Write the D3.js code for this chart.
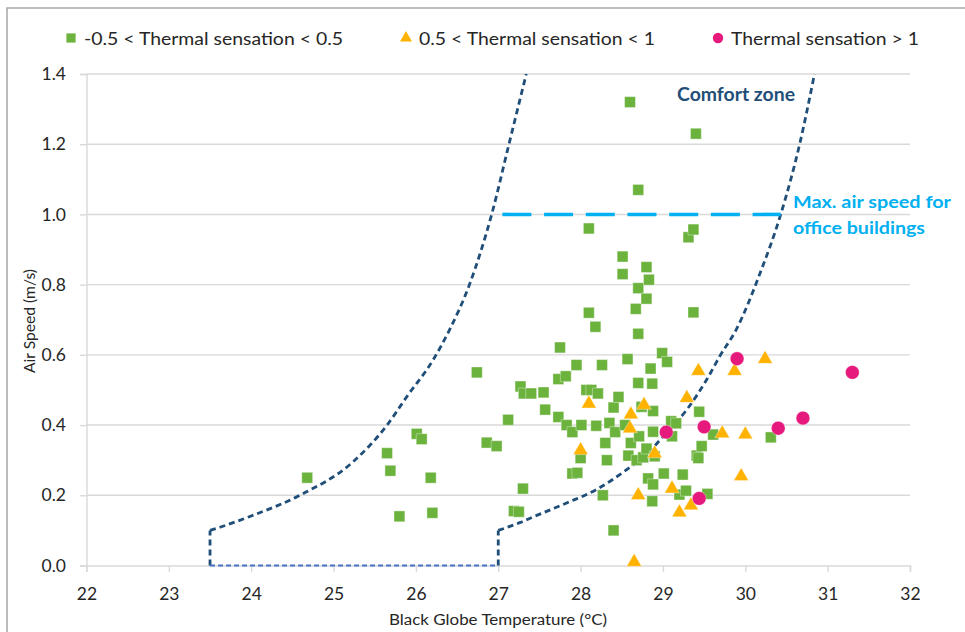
<!DOCTYPE html>
<html><head><meta charset="utf-8">
<script src="https://cdn.jsdelivr.net/npm/d3@7"></script>
<style>
body{margin:0;background:#fff;}
svg{display:block;font-family:Lato,"Open Sans","Noto Sans",sans-serif;}
</style>
</head><body>
<svg id="chart" width="965" height="632"></svg>
<script>
// ---------- data ----------
const xTickValues = [22,23,24,25,26,27,28,29,30,31,32];
const yTickValues = [0,0.2,0.4,0.6,0.8,1.0,1.2,1.4];
const seriesNames = ["-0.5 < Thermal sensation < 0.5","0.5 < Thermal sensation < 1","Thermal sensation > 1"];
const xTitle = "Black Globe Temperature (°C)";
const yTitle = "Air Speed (m/s)";

const greenT = [24.68,25.65,25.69,25.80,26.01,26.07,26.18,26.20,26.74,26.86,26.98,27.12,27.19,27.25,27.27,27.30,27.31,27.40,27.55,27.57,27.73,27.73,27.75,27.82,27.83,27.90,27.90,27.95,27.96,28.00,28.01,28.07,28.10,28.10,28.13,28.18,28.19,28.21,28.26,28.27,28.30,28.32,28.35,28.40,28.40,28.42,28.46,28.51,28.51,28.54,28.57,28.58,28.60,28.61,28.67,28.68,28.70,28.70,28.70,28.70,28.71,28.74,28.76,28.80,28.80,28.80,28.82,28.83,28.85,28.87,28.87,28.88,28.88,28.88,28.90,28.99,29.01,29.05,29.10,29.11,29.16,29.20,29.24,29.28,29.31,29.37,29.37,29.40,29.41,29.43,29.44,29.47,29.54,29.61,30.31];
const greenV = [0.25,0.32,0.27,0.14,0.375,0.36,0.25,0.15,0.55,0.35,0.34,0.415,0.155,0.153,0.51,0.219,0.49,0.49,0.493,0.444,0.423,0.531,0.621,0.539,0.40,0.38,0.262,0.571,0.264,0.306,0.40,0.50,0.96,0.72,0.50,0.68,0.398,0.49,0.571,0.20,0.349,0.30,0.406,0.45,0.10,0.38,0.48,0.88,0.83,0.40,0.588,0.313,1.32,0.349,0.731,0.30,1.07,0.79,0.66,0.52,0.368,0.452,0.308,0.85,0.76,0.333,0.248,0.814,0.561,0.518,0.183,0.44,0.381,0.231,0.311,0.605,0.262,0.58,0.411,0.368,0.405,0.202,0.259,0.213,0.935,0.957,0.721,1.23,0.313,0.306,0.438,0.34,0.204,0.373,0.365];

const orangeT = [28.65,28.00,28.10,28.60,28.61,28.70,28.77,28.90,29.11,29.20,29.29,29.34,29.43,29.72,29.87,29.95,30.00,30.24];
const orangeV = [0.01,0.328,0.461,0.39,0.43,0.20,0.457,0.319,0.219,0.151,0.477,0.171,0.554,0.376,0.554,0.254,0.373,0.588];

const pinkT = [29.04,29.44,29.50,29.90,30.40,30.70,31.30];
const pinkV = [0.38,0.191,0.395,0.589,0.391,0.42,0.55];

// comfort zone boundaries
const leftCurveT = [23.5,23.62,24.0,24.59,25.24,25.65,25.89,26.21,26.41,26.65,26.92,27.13,27.34];
const leftCurveV = [0.1,0.109,0.141,0.2,0.296,0.4,0.481,0.586,0.672,0.8,1.0,1.2,1.4];
const rightCurveT = [27.0,27.26,27.43,27.83,28.19,28.56,28.80,29.04,29.29,29.53,29.69,29.89,30.18,30.43,30.66,30.84];
const rightCurveV = [0.1,0.122,0.139,0.178,0.216,0.273,0.316,0.378,0.444,0.529,0.596,0.672,0.833,1.0,1.2,1.4];
const zoneBaseT = [23.5,27.0];
const zoneBaseV = [0,0];
const zoneStepV = [0,0.1];
const maxSpeedT = [27.05,30.43];
const maxSpeedV = [1.0,1.0];
const annotations = ["Comfort zone","Max. air speed for","office buildings"];

// ---------- setup ----------
const svg = d3.select("#chart");
const x = d3.scaleLinear().domain([22,32]).range([86.5,910]);
const y = d3.scaleLinear().domain([0,1.4]).range([565.5,74]);
const GREEN="#6CB33E", ORANGE="#FFB300", PINK="#E6197C", NAVY="#1F4E79", CYAN="#00B0F0";

// outer frame
svg.append("path").attr("d","M7,632 V8 H965").attr("fill","none").attr("stroke","#A6A6A6").attr("stroke-width",1.5);

// gridlines
svg.append("g").selectAll("line").data(yTickValues.filter(d=>d>0)).join("line")
  .attr("x1",x(22)).attr("x2",x(32)).attr("y1",d=>y(d)).attr("y2",d=>y(d))
  .attr("stroke","#D9D9D9").attr("stroke-width",1.4);

// axes
const yAxis = svg.append("g").attr("transform",`translate(${x(22)},0)`)
  .call(d3.axisLeft(y).tickValues(yTickValues).tickFormat(d3.format(".1f")).tickSize(6.5).tickPadding(14));
const xAxis = svg.append("g").attr("transform",`translate(0,${y(0)})`)
  .call(d3.axisBottom(x).tickValues(xTickValues).tickFormat(d3.format("d")).tickSize(6.5).tickPadding(16));
[yAxis,xAxis].forEach(g=>{
  g.select(".domain").attr("stroke","#D9D9D9").attr("stroke-width",1.4);
  g.selectAll(".tick line").attr("stroke","#D9D9D9").attr("stroke-width",1.4);
  g.selectAll(".tick text").attr("fill","#262626").attr("font-size",17.5).attr("font-family","Lato,'Open Sans',sans-serif");
});

// axis titles
svg.append("text").attr("x",498).attr("y",625).attr("text-anchor","middle")
  .attr("font-size",14.5).attr("fill","#262626").attr("textLength",218).attr("lengthAdjust","spacingAndGlyphs").text(xTitle);
svg.append("text").attr("transform","translate(35,321) rotate(-90)").attr("text-anchor","middle")
  .attr("font-size",14.5).attr("fill","#262626").attr("textLength",104).attr("lengthAdjust","spacingAndGlyphs").text(yTitle);

// comfort zone lines
const line = d3.line().x(d=>x(d[0])).y(d=>y(d[1]));
const curve = d3.line().x(d=>x(d[0])).y(d=>y(d[1])).curve(d3.curveMonotoneX);
const zoneStyle = s => s.attr("fill","none").attr("stroke",NAVY).attr("stroke-width",2.8).attr("stroke-dasharray","6,4");
zoneStyle(svg.append("path").attr("d",line(zoneStepV.map(v=>[zoneBaseT[0],v]))));
zoneStyle(svg.append("path").attr("d",line(zoneStepV.map(v=>[zoneBaseT[1],v]))));
svg.append("path").attr("d",line(zoneBaseT.map((t,i)=>[t,zoneBaseV[i]])))
  .attr("fill","none").attr("stroke","#4472C4").attr("stroke-width",2).attr("stroke-dasharray","5,3");
zoneStyle(svg.append("path").attr("d",curve(leftCurveT.map((t,i)=>[t,leftCurveV[i]]))));
zoneStyle(svg.append("path").attr("d",curve(rightCurveT.map((t,i)=>[t,rightCurveV[i]]))));

// max air speed line
svg.append("path").attr("d",line(maxSpeedT.map((t,i)=>[t,maxSpeedV[i]])))
  .attr("fill","none").attr("stroke",CYAN).attr("stroke-width",3.6).attr("stroke-dasharray","29,12.7");

// annotations
svg.append("text").attr("x",677).attr("y",101).attr("font-size",18.5).attr("font-weight","bold")
  .attr("fill",NAVY).attr("textLength",118).attr("lengthAdjust","spacingAndGlyphs").text(annotations[0]);
svg.append("text").attr("x",793).attr("y",208).attr("font-size",17).attr("font-weight","bold")
  .attr("fill",CYAN).attr("textLength",158).attr("lengthAdjust","spacingAndGlyphs").text(annotations[1]);
svg.append("text").attr("x",793).attr("y",234).attr("font-size",17).attr("font-weight","bold")
  .attr("fill",CYAN).attr("textLength",132).attr("lengthAdjust","spacingAndGlyphs").text(annotations[2]);

// markers
const sq = d3.symbol().type(d3.symbolSquare).size(118);
const tri = d3.symbol().type(d3.symbolTriangle).size(95);
const cir = d3.symbol().type(d3.symbolCircle).size(150);
function drawSeries(T,V,sym,color){
  svg.append("g").selectAll("path").data(T.map((t,i)=>[t,V[i]])).join("path")
    .attr("d",sym).attr("transform",d=>`translate(${x(d[0])},${y(d[1])})`)
    .attr("fill",color).attr("stroke","#ffffff").attr("stroke-opacity",0.45).attr("stroke-width",0.8);
}
drawSeries(greenT,greenV,sq,GREEN);
drawSeries(orangeT,orangeV,tri,ORANGE);
drawSeries(pinkT,pinkV,cir,PINK);

// legend
const legendSyms = [d3.symbol().type(d3.symbolSquare).size(85), d3.symbol().type(d3.symbolTriangle).size(62), d3.symbol().type(d3.symbolCircle).size(85)];
const legendColors = [GREEN,ORANGE,PINK];
const legendSymX = [71,406,718];
const legendTextX = [84,419,731];
const legendTextW = [259,236,188];
seriesNames.forEach((n,i)=>{
  svg.append("path").attr("d",legendSyms[i]).attr("transform",`translate(${legendSymX[i]},38)`).attr("fill",legendColors[i]);
  svg.append("text").attr("x",legendTextX[i]).attr("y",44.5).attr("font-size",17.5).attr("fill","#262626")
    .attr("textLength",legendTextW[i]).attr("lengthAdjust","spacingAndGlyphs").text(n);
});
</script>
</body></html>
